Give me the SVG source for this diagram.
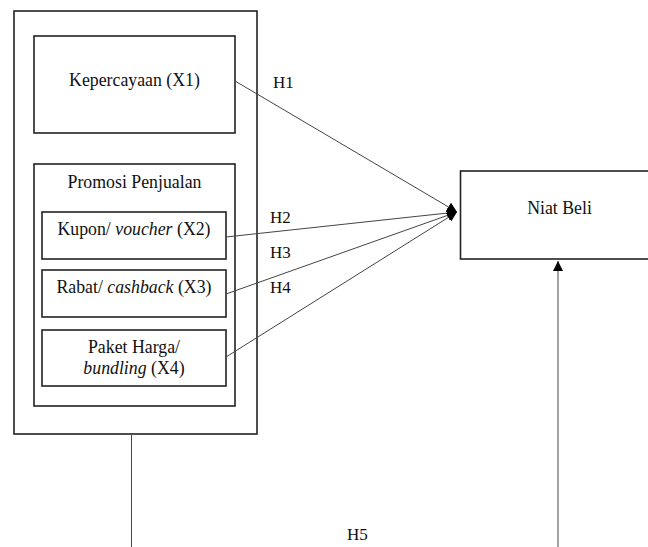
<svg xmlns="http://www.w3.org/2000/svg" width="648" height="547" viewBox="0 0 648 547">
<defs>
<style>
.box{fill:#fff;stroke:#222;stroke-width:1.6}
.t{font-family:"Liberation Serif","Times New Roman",serif;font-size:17.8px;fill:#111;text-anchor:middle}
.h{font-family:"Liberation Serif","Times New Roman",serif;font-size:17px;fill:#111}
.c{fill:none;stroke:#444;stroke-width:1}
</style>
<marker id="ah" viewBox="0 0 10 10" refX="10" refY="5" markerWidth="10" markerHeight="10" markerUnits="userSpaceOnUse" orient="auto">
<path d="M0,0 L10,5 L0,10 z" fill="#000"/>
</marker>
<marker id="ahu" viewBox="0 0 10 10" refX="10" refY="5" markerWidth="10" markerHeight="10" markerUnits="userSpaceOnUse" orient="auto">
<path d="M0,0 L10,5 L0,10 z" fill="#000"/>
</marker>
</defs>
<rect width="648" height="547" fill="#fff"/>
<g id="outer"><rect class="box" x="14" y="11" width="243" height="423"/></g>
<g id="x1"><rect class="box" x="34" y="36" width="201" height="97"/><text class="t" x="134.5" y="86">Kepercayaan (X1)</text></g>
<g id="promosi"><rect class="box" x="34" y="164" width="201" height="242"/><text class="t" x="134.5" y="188">Promosi Penjualan</text></g>
<g id="x2"><rect class="box" x="42" y="212" width="184" height="47"/><text class="t" x="134" y="235">Kupon/ <tspan font-style="italic">voucher</tspan> (X2)</text></g>
<g id="x3"><rect class="box" x="42" y="270" width="184" height="47"/><text class="t" x="134" y="293">Rabat/ <tspan font-style="italic">cashback</tspan> (X3)</text></g>
<g id="x4"><rect class="box" x="42" y="330" width="184" height="56"/><text class="t" x="134" y="353">Paket Harga/</text><text class="t" x="134" y="374"><tspan font-style="italic">bundling</tspan> (X4)</text></g>
<g id="y"><rect class="box" x="460.5" y="171" width="200" height="88"/><text class="t" x="559.5" y="214">Niat Beli</text></g>
<g id="connectors">
<line class="c" x1="235" y1="81" x2="457" y2="212" marker-end="url(#ah)"/>
<line class="c" x1="226" y1="237" x2="457" y2="212" marker-end="url(#ah)"/>
<line class="c" x1="226" y1="294" x2="457" y2="212" marker-end="url(#ah)"/>
<line class="c" x1="226" y1="357" x2="457" y2="212" marker-end="url(#ah)"/>
<line class="c" x1="131.5" y1="434" x2="131.5" y2="547"/>
<line class="c" x1="558" y1="547" x2="558" y2="261" marker-end="url(#ahu)"/>
<text class="h" x="273" y="88">H1</text>
<text class="h" x="270" y="223">H2</text>
<text class="h" x="270" y="258">H3</text>
<text class="h" x="270" y="293">H4</text>
<text class="h" x="347" y="540">H5</text>
</g>
</svg>
